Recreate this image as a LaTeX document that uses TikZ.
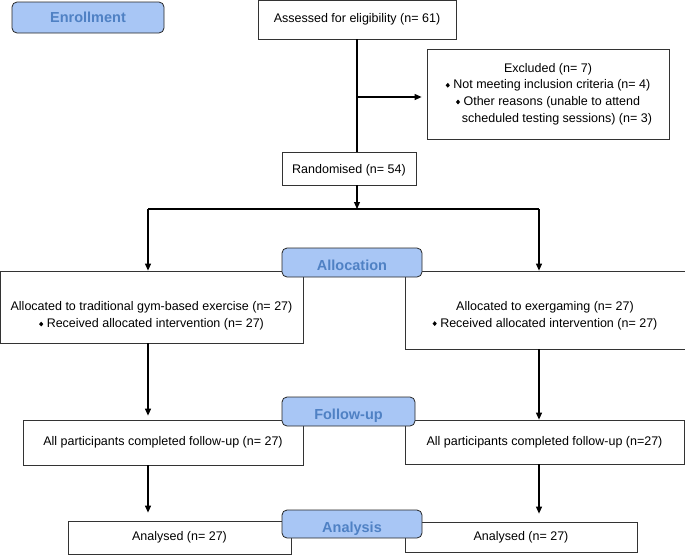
\documentclass[tikz,border=0pt]{standalone}
\usepackage{fontspec}
\setmainfont{Liberation Sans}
\usetikzlibrary{arrows.meta, positioning}

\definecolor{stagefill}{RGB}{168,198,245}
\definecolor{stagetext}{RGB}{79,129,196}
\newcommand{\dia}{\tikz[baseline=0pt]\fill (0pt,3.6pt) -- (2.1pt,6pt) -- (4.2pt,3.6pt) -- (2.1pt,1.2pt) -- cycle;}
% two centred lines, pushed down inside the box
\newcommand{\lowtext}[2]{\raisebox{-#1}[0pt][0pt]{\begin{tabular}{@{}c@{}}#2\end{tabular}}}

\begin{document}
\begin{tikzpicture}[x=1pt, y=-1pt, font=\fontsize{12.5}{16.7}\selectfont]
  \useasboundingbox (0,0) rectangle (685,555);

  \begin{scope}[every node/.style = {draw=black!80, line width=0.8pt, fill=white, align=center, inner sep=0pt}]
    \node[minimum width=198pt, minimum height=38.5pt] (assess) at (357,19.75) {Assessed for eligibility (n= 61)};
    \node[minimum width=242pt, minimum height=90pt] (excl) at (548,94) {Excluded (n= 7)\\
      \dia\ Not meeting inclusion criteria (n= 4)\\
      \dia\ Other reasons (unable to attend\\
      \hspace*{18pt}scheduled testing sessions) (n= 3)};
    \node[minimum width=134pt, minimum height=33pt, text height=10pt, text depth=0pt] (rand) at (349,168.5) {Randomised (n= 54)};
    \node[minimum width=303pt, minimum height=72pt] (lalloc) at (151.5,307) {\lowtext{12pt}{Allocated to traditional gym-based exercise (n= 27)\\
      \dia\ Received allocated intervention (n= 27)}};
    \node[minimum width=280pt, minimum height=78pt] (ralloc) at (545,310) {\lowtext{8.5pt}{Allocated to exergaming (n= 27)\\
      \dia\ Received allocated intervention (n= 27)}};
    \node[minimum width=280pt, minimum height=45pt] (lfol) at (163,442.5) {All participants completed follow-up (n= 27)};
    \node[minimum width=279pt, minimum height=44pt] (rfol) at (544.5,442) {All participants completed follow-up (n=27)};
    \node[minimum width=223pt, minimum height=33pt] (lana) at (179.5,537.5) {Analysed (n= 27)};
    \node[minimum width=232pt, minimum height=30pt] (rana) at (521,537) {Analysed (n= 27)};
  \end{scope}

  \coordinate (exj) at (357,97);
  \coordinate (split) at (357,209);
  \coordinate (lcol) at (148,209);
  \coordinate (rcol) at (539,209);

  \begin{scope}[line width=1.1pt, every edge/.style={draw=black, line width=1.1pt, -{Triangle[length=7pt,width=6pt]}}]
    \draw (assess.south) -- (rand.north -| assess);
    \path (exj) edge[shorten >=5pt] (exj -| excl.west);
    \path (rand.south -| assess) edge (split);
    \draw (lcol) -- (rcol);
    \path (lcol) edge (lalloc.north -| lcol);
    \path (rcol) edge (ralloc.north -| rcol);
    \path (lalloc.south -| lcol) edge[shorten >=4pt] (lfol.north -| lcol);
    \path (ralloc.south -| rcol) edge (rfol.north -| rcol);
    \path (lfol.south -| lcol) edge[shorten >=8pt] (lana.north -| lcol);
    \path (rfol.south -| rcol) edge[shorten >=8pt] (rana.north -| rcol);
  \end{scope}

  \begin{scope}[every node/.style = {draw=black!85, line width=0.8pt, fill=stagefill, rounded corners=5pt, text=stagetext, font=\fontsize{14.5}{17}\selectfont\bfseries, inner sep=0pt, text depth=0pt, text height=16pt}]
    \node[minimum width=152pt, minimum height=31pt, text height=10.5pt] (enrol) at (88,17.5) {Enrollment};
    \node[minimum width=140pt, minimum height=29pt] (alloc) at (352,262.5) {Allocation};
    \node[minimum width=133pt, minimum height=29pt] (follow) at (348.5,411.5) {Follow-up};
    \node[minimum width=140pt, minimum height=28pt] (anal) at (352,524) {Analysis};
  \end{scope}
\end{tikzpicture}
\end{document}
